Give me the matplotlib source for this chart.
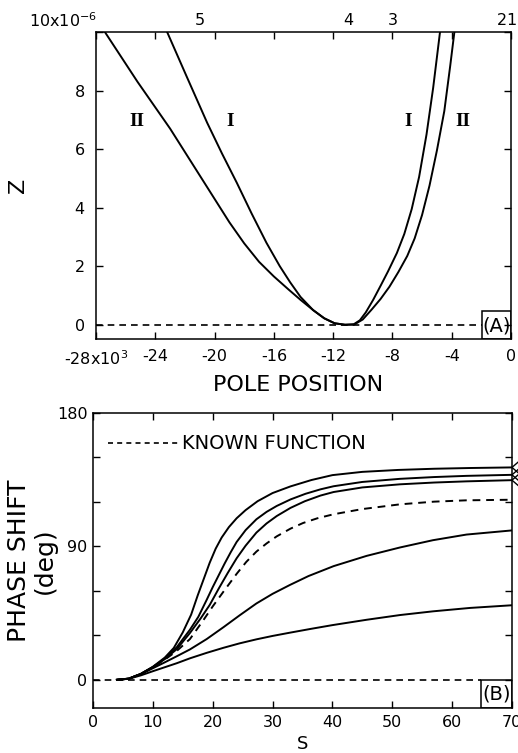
import numpy as np
import matplotlib
matplotlib.use("Agg")
import matplotlib.pyplot as plt
from matplotlib.patches import Rectangle

plt.rcParams['font.family'] = ['DejaVu Sans']
plt.rcParams['mathtext.fontset'] = 'dejavusans'

# panel A: Z versus pole position, two solution branches I and II
curve_I_x = [-23.2, -21.9, -20.5, -19.5, -18.5, -17.5, -16.5, -15.6, -14.9, -14.2,
             -13.35, -12.6, -11.9, -11.2, -10.6, -10.2, -9.8, -9.3, -8.8, -8.3,
             -7.7, -7.2, -6.7, -6.2, -5.7, -5.25, -4.79]
curve_I_z = [10.0, 8.5, 6.9, 5.85, 4.85, 3.8, 2.8, 2.0, 1.45, 0.95,
             0.5, 0.22, 0.05, 0.0, 0.02, 0.15, 0.42, 0.85, 1.33, 1.82,
             2.45, 3.1, 3.95, 5.05, 6.5, 8.1, 10.0]
curve_II_x = [-27.4, -26.3, -25.2, -24.1, -23.0, -22.0, -21.0, -20.0, -19.0, -18.0,
              -17.0, -16.0, -15.0, -14.2, -13.35, -12.6, -11.9, -11.2, -10.6, -10.0,
              -9.4, -8.8, -8.2, -7.6, -7.0, -6.5, -6.0, -5.5, -5.0, -4.5,
              -4.1, -3.82]
curve_II_z = [10.0, 9.15, 8.3, 7.5, 6.7, 5.9, 5.1, 4.3, 3.5, 2.78,
              2.15, 1.65, 1.2, 0.85, 0.5, 0.22, 0.05, 0.0, 0.0, 0.18,
              0.52, 0.88, 1.3, 1.8, 2.35, 2.95, 3.75, 4.75, 5.95, 7.3,
              8.85, 10.0]
top_pos = [-21.0, -11.0, -7.95, -0.63, 0.05]
top_lab = ['5', '4', '3', '2', '1']
roman_x = [-25.25, -18.95, -6.93, -3.22]
roman_z = [6.95, 6.95, 6.95, 6.95]
roman_lab = ['II', 'I', 'I', 'II']

# panel B: phase shift versus s
s1 = [4, 6, 8, 10, 12, 13.5, 15, 16.4, 17.5, 18.5, 19.5, 20.5, 21.5, 22.7, 24,
      25.5, 27.5, 30, 33, 36.5, 40, 45, 51, 57, 63, 70]
p1 = [0, 0.8, 4, 8.8, 15, 21.5, 32, 44, 57, 68, 79, 88.5, 96, 103, 109,
      114.5, 120.5, 126, 130.5, 134.8, 138.1, 140.3, 141.6, 142.4, 142.9, 143.3]
s2 = [4, 6, 8, 10, 12, 14, 16.2, 17.6, 19, 20, 21, 22, 23, 24, 25.5, 27.3, 29,
      30.7, 33, 35.5, 38, 40.2, 45, 51.3, 57, 62.4, 70]
p2 = [0, 0.8, 4, 8.6, 14.3, 22, 33.8, 42.5, 54, 62.5, 70.5, 78.5, 86, 93, 101,
      108.3, 113.3, 117.3, 121.7, 125.5, 128.5, 130.6, 133.5, 135.6, 136.8, 137.6,
      138.3]
s3 = [4, 6, 8, 10, 12, 14, 16.2, 18, 19.5, 21, 22.5, 24, 25.5, 27.3, 29, 30.7,
      33, 35.4, 38, 40.2, 45, 51.3, 57, 62.4, 70]
p3 = [0, 0.8, 4, 8.5, 14, 20.7, 31.6, 41.5, 50.5, 61.5, 72, 82, 90.5, 99.3,
      105.5, 110.5, 116, 120.5, 124.3, 126.7, 129.8, 131.9, 133.1, 133.9, 134.7]
s_known = [4, 6, 8, 10, 12, 14, 16.2, 18.4, 20, 21.8, 24, 25.6, 27.3, 29, 30.7,
           33, 35.1, 37.5, 40.2, 45, 51.3, 57, 62.4, 70]
p_known = [0, 0.8, 4, 8.4, 13.6, 19.5, 27.5, 40, 49.5, 59.5, 71.5, 79.5, 86.5,
           92, 96.8, 102, 105.8, 109, 111.7, 115.2, 118.4, 120.2, 121.1, 121.5]
s5 = [4, 6, 8, 10, 12, 14, 16.2, 19, 21.8, 24.5, 27.3, 30, 32.9, 36, 40.2, 45.7,
      51.3, 56.8, 62.4, 70]
p5 = [0, 0.8, 3.8, 7.8, 11.8, 15.9, 20.5, 27.5, 35.5, 43.5, 51.5, 58, 64, 70,
      76.7, 83.6, 89.3, 94.2, 98.0, 100.8]
s6 = [4, 6, 8, 10, 12, 14, 16.2, 19, 21.8, 24.5, 27.3, 30, 32.9, 36.3, 40, 45.7,
      51.3, 56.8, 63, 70]
p6 = [0, 0.7, 3.0, 5.8, 8.5, 11.2, 14.5, 18.2, 21.6, 24.6, 27.3, 29.6, 31.8,
      34.3, 36.9, 40.5, 43.7, 46.2, 48.5, 50.3]

fig = plt.figure(figsize=(5.18, 7.53), dpi=100)
axA = fig.add_axes([0.1853, 0.5493, 0.8012, 0.4082])
axB = fig.add_axes([0.1795, 0.0598, 0.8089, 0.3917])

lw = 1.4
tickfont = 11.5

for ax in (axA, axB):
    for sp in ax.spines.values():
        sp.set_linewidth(1.1)
    ax.tick_params(direction='in', length=5, width=1.0, top=True, right=True,
                   labelsize=tickfont)

# ---- panel A
axA.plot(curve_I_x, curve_I_z, color='black', lw=lw)
axA.plot(curve_II_x, curve_II_z, color='black', lw=lw)
axA.axhline(0, xmin=0, xmax=0.93, color='black', lw=1.2, ls=(0, (4, 3)))
axA.set_xlim(-28, 0)
axA.set_ylim(-0.5, 10)
axA.set_xticks([-28, -24, -20, -16, -12, -8, -4, 0])
axA.set_xticklabels(['-28x10$^3$', '-24', '-20', '-16', '-12', '-8', '-4', '0'])
axA.set_yticks([0, 2, 4, 6, 8, 10])
axA.set_yticklabels(['0', '2', '4', '6', '8', ''])
axA.text(0.003, 1.016, '10x10$^{-6}$', transform=axA.transAxes, ha='right',
         va='baseline', fontsize=tickfont)
axA.tick_params(axis='x', pad=7)
axA.tick_params(axis='y', pad=8)
for x, lab in zip(top_pos, top_lab):
    axA.text(x, 1.012, lab, transform=axA.get_xaxis_transform(), ha='center',
             va='bottom', fontsize=tickfont)
for x, z, lab in zip(roman_x, roman_z, roman_lab):
    axA.text(x, z, lab, ha='center', va='center', fontsize=14,
             family='Liberation Serif', fontweight='bold')
axA.add_patch(Rectangle((0.93, 0), 0.07, 0.091, transform=axA.transAxes,
                        fill=False, lw=1.1, color='black'))
axA.text(0.965, 0.045, '(A)', transform=axA.transAxes, ha='center', va='center',
         fontsize=14)
axA.set_xlabel('POLE POSITION', fontsize=16)
axA.xaxis.set_label_coords(0.487, -0.117)
axA.set_ylabel('Z', fontsize=16)
axA.yaxis.set_label_coords(-0.164, 0.5)

# ---- panel B
for s, p in [(s1, p1), (s2, p2), (s3, p3), (s5, p5), (s6, p6)]:
    axB.plot(s, p, color='black', lw=lw)
axB.plot(s_known, p_known, color='black', lw=lw, ls=(0, (4, 3)))
axB.axhline(0, xmin=0, xmax=0.926, color='black', lw=1.2, ls=(0, (4, 3)))
# small chevrons marking the top three curves at the right edge
for p in (p1[-1], p2[-1], p3[-1]):
    axB.plot([71.0, 70, 71.0], [p + 3.5, p, p - 3.5], color='black', lw=1.0,
             clip_on=False)
axB.set_xlim(0, 70)
axB.set_ylim(-19, 180)
axB.set_xticks(range(0, 71, 10))
axB.set_yticks(range(0, 181, 30))
axB.set_yticklabels(['0', '', '', '90', '', '', '180'])
axB.tick_params(axis='x', pad=5)
axB.tick_params(axis='y', pad=4)
axB.plot([0.036, 0.207], [0.898, 0.898], transform=axB.transAxes, color='black',
         lw=1.2, ls=(0, (3, 2.5)))
axB.text(0.212, 0.898, 'KNOWN FUNCTION', transform=axB.transAxes, ha='left',
         va='center', fontsize=14)
axB.add_patch(Rectangle((0.926, 0), 0.074, 0.095, transform=axB.transAxes,
                        fill=False, lw=1.1, color='black'))
axB.text(0.963, 0.047, '(B)', transform=axB.transAxes, ha='center', va='center',
         fontsize=14)
axB.set_xlabel('S', fontsize=13)
axB.xaxis.set_label_coords(0.501, -0.092)
axB.set_ylabel('PHASE SHIFT\n(deg)', fontsize=18, linespacing=1.1)
axB.yaxis.set_label_coords(-0.086, 0.5)

fig.savefig('out.png', dpi=100)
